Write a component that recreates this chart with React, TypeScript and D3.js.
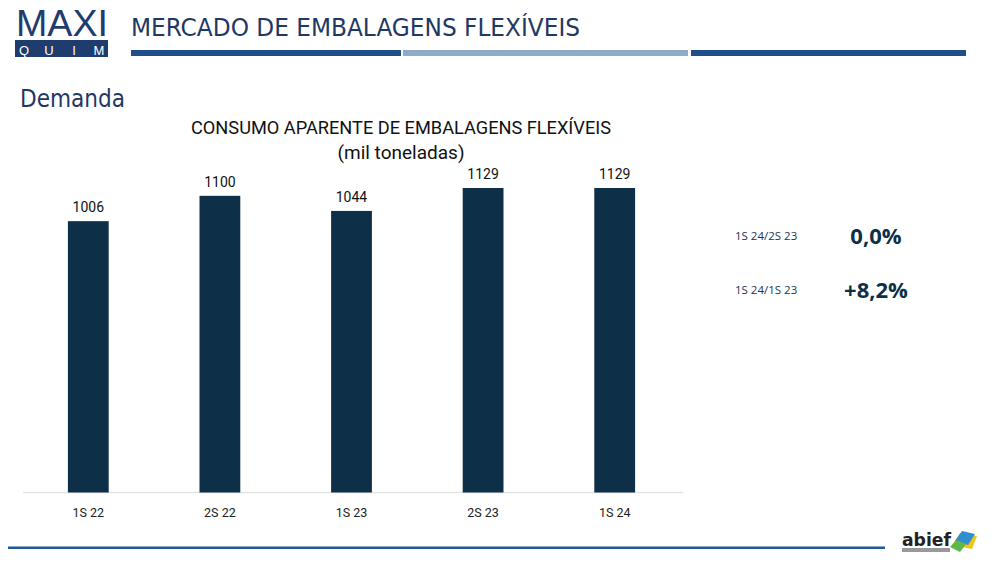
import React from "react";
import * as d3 from "d3";

const categories = ["1S 22", "2S 22", "1S 23", "2S 23", "1S 24"];
const values = [1006, 1100, 1044, 1129, 1129];
const comparisons = ["1S 24/2S 23", "1S 24/1S 23"];
const comparisonValues = ["0,0%", "+8,2%"];

const W = 1000;
const H = 563;
const NAVY = "#1f3864";
const BAR = "#0e2f48";

export default function App() {
  const x = d3.scaleBand<string>().domain(categories).range([22.5, 680.5]).paddingInner(0.69).paddingOuter(0.345);
  const y = d3.scaleLinear().domain([0, 1129]).range([492.5, 188]);
  const font = "'DejaVu Sans Condensed', 'DejaVu Sans', sans-serif";
  const chartFont = "Roboto, 'Noto Sans', sans-serif";
  return (
    <svg width={W} height={H} style={{ position: "absolute", left: 0, top: 0, background: "#fff" }}>
      {/* Logo */}
      <g transform="translate(16,35.5) scale(1,1.3)">
        <text x={0} y={0} fontFamily="'Liberation Sans', Arial, sans-serif" fontSize={28} fill="#1f3c6e" textLength={92} lengthAdjust="spacingAndGlyphs">MAXI</text>
      </g>
      <rect x={15} y={40} width={93} height={17} fill="#1f3c6e" />
      {["Q", "U", "I", "M"].map((c, i) => (
        <text key={c} x={24 + i * 25} y={55} textAnchor="middle" fontFamily="'Liberation Sans', Arial, sans-serif" fontSize={13} fill="#fff">{c}</text>
      ))}
      {/* Title */}
      <text x={131} y={36} fontFamily={font} fontSize={25} fill={NAVY} textLength={449} lengthAdjust="spacingAndGlyphs">MERCADO DE EMBALAGENS FLEXÍVEIS</text>
      <rect x={131} y={50} width={270} height={6} fill="#1f4e89" />
      <rect x={403} y={50} width={285} height={6} fill="#8eaacb" />
      <rect x={691} y={50} width={275} height={6} fill="#1f4e89" />
      <text x={20} y={107} fontFamily={font} fontSize={24} fill={NAVY} textLength={105} lengthAdjust="spacingAndGlyphs">Demanda</text>

      {/* Chart title */}
      <text x={401} y={134} textAnchor="middle" fontFamily={chartFont} fontSize={18} fill="#111" textLength={420} lengthAdjust="spacingAndGlyphs">CONSUMO APARENTE DE EMBALAGENS FLEXÍVEIS</text>
      <text x={401} y={159} textAnchor="middle" fontFamily={chartFont} fontSize={18} fill="#111" textLength={127} lengthAdjust="spacingAndGlyphs">(mil toneladas)</text>

      {/* baseline */}
      <line x1={23} x2={683} y1={492.5} y2={492.5} stroke="#e3e3e3" strokeWidth={1.5} />
      {categories.map((c, i) => (
        <g key={c}>
          <rect x={x(c)} y={y(values[i])} width={x.bandwidth()} height={y(0) - y(values[i])} fill={BAR} />
          <text x={(x(c) as number) + x.bandwidth() / 2} y={y(values[i]) - 9} textAnchor="middle" fontFamily={chartFont} fontSize={14} fill="#111">{values[i]}</text>
          <text x={(x(c) as number) + x.bandwidth() / 2} y={517} textAnchor="middle" fontFamily={chartFont} fontSize={12.5} fill="#222">{c}</text>
        </g>
      ))}

      {/* comparisons */}
      {comparisons.map((c, i) => (
        <g key={c}>
          <text x={735} y={240 + i * 54} fontFamily="'Open Sans', sans-serif" fontSize={11.5} fill="#1e3450">{c}</text>
          <text x={876} y={244 + i * 54} textAnchor="middle" fontFamily="'Open Sans', sans-serif" fontWeight={700} fontSize={22} fill="#0e2f48">{comparisonValues[i]}</text>
        </g>
      ))}

      {/* bottom line */}
      <rect x={8} y={546.5} width={877} height={2.5} fill="#1f5a96" />
      {/* abief logo */}
      <text x={902} y={546} fontFamily="'DejaVu Sans', sans-serif" fontWeight={700} fontSize={17} fill="#222" textLength={49} lengthAdjust="spacingAndGlyphs">abief</text>
      <rect x={902} y={548} width={48} height={4} fill="#999" />
      <path d="M952,545 L960,533 L977,536 L972,549 Z" fill="#f2c318" />
      <path d="M955,541 L962,531 L975,534 L968,545 Z" fill="#2f8fd0" />
      <path d="M950,547 L957,540 L966,544 L960,552 Z" fill="#5cb848" />
    </svg>
  );
}
